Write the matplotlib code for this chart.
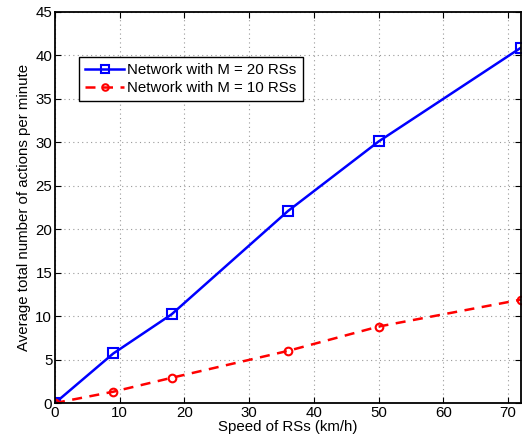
import numpy as np
import matplotlib
matplotlib.use('Agg')
import matplotlib.pyplot as plt

plt.rcParams['font.family'] = ['Liberation Sans', 'DejaVu Sans']

speed = [0, 9, 18, 36, 50, 72]
m20 = [0, 5.7, 10.2, 22.1, 30.1, 40.9]
m10 = [0, 1.3, 2.9, 6.0, 8.8, 11.9]

fig = plt.figure(figsize=(5.26, 4.42), dpi=100)
ax = fig.add_axes([0.1046, 0.0882, 0.886, 0.8847])

ax.plot(speed, m20, '-s', color='blue', lw=1.8, ms=6.5, mfc='none', mew=1.5,
        label='Network with M = 20 RSs')
ax.plot(speed, m10, '--o', color='red', lw=1.8, ms=5.5, mfc='none', mew=1.5,
        dashes=(4, 3), label='Network with M = 10 RSs')

ax.set_xlim(0, 72)
ax.set_ylim(0, 45)
ax.set_xticks(np.arange(0, 71, 10))
ax.set_yticks(np.arange(0, 46, 5))
ax.tick_params(direction='in', top=True, right=True, labelsize=10.8, length=4, pad=2)
ax.grid(True, linestyle=(0, (1, 3)), color='#999999', lw=0.8)
for s in ax.spines.values():
    s.set_linewidth(1.3)

ax.set_xlabel('Speed of RSs (km/h)', fontsize=10.8, labelpad=0)
ax.set_ylabel('Average total number of actions per minute', fontsize=10.8, labelpad=3)

leg = ax.legend(loc='upper left', bbox_to_anchor=(0.052, 0.885), fontsize=10.8,
                fancybox=False, framealpha=1, edgecolor='black',
                handlelength=2.6, borderpad=0.4, labelspacing=0.3,
                handletextpad=0.2, borderaxespad=0, markerscale=0.85)
leg.get_frame().set_linewidth(1.0)

fig.savefig('out.png', dpi=100)
